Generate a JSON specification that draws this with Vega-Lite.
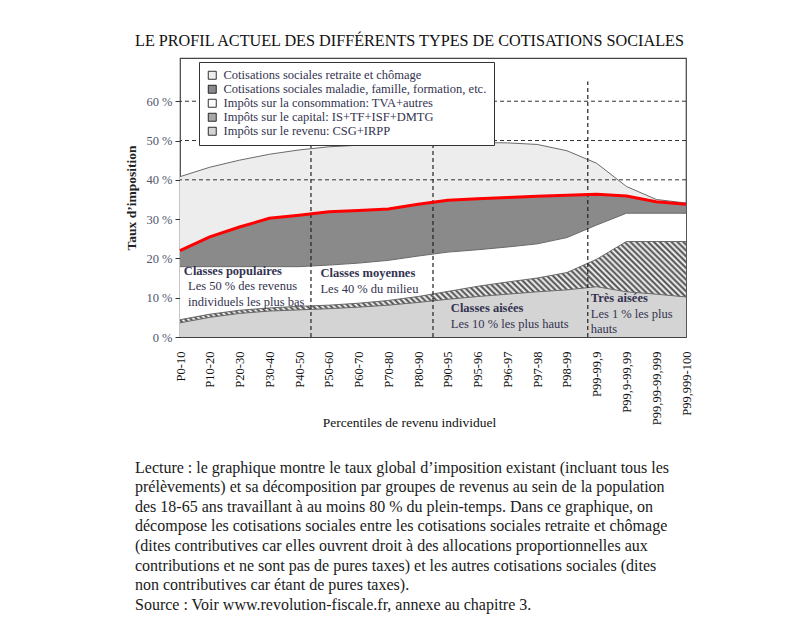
{
  "$schema": "https://vega.github.io/schema/vega-lite/v6.json",
  "background": "white",
  "padding": {"left": 124, "top": 33, "right": 10, "bottom": 10},
  "title": {"text": "LE PROFIL ACTUEL DES DIFFÉRENTS TYPES DE COTISATIONS SOCIALES", "anchor": "start", "frame": "group", "dx": -45, "font": "Liberation Serif", "fontSize": 16.2, "fontWeight": "normal", "color": "#111", "offset": 8},
  "config": {"view": {"stroke": "#444", "strokeWidth": 1.2}, "axis": {"labelOverlap": false}, "axisX": {"labelOverlap": false}},
  "datasets": {
    "donnees": [
      {"i":0,"p":"P0-10","a_revenu":3.6,"b_capital":0.8,"c_conso":13.5,"d_maladie":4.1,"e_retraite":18.8},
      {"i":1,"p":"P10-20","a_revenu":5.0,"b_capital":0.8,"c_conso":12.1,"d_maladie":7.6,"e_retraite":17.7},
      {"i":2,"p":"P20-30","a_revenu":6.0,"b_capital":0.8,"c_conso":11.1,"d_maladie":10.1,"e_retraite":17.0},
      {"i":3,"p":"P30-40","a_revenu":6.6,"b_capital":0.8,"c_conso":10.5,"d_maladie":12.3,"e_retraite":16.3},
      {"i":4,"p":"P40-50","a_revenu":6.9,"b_capital":0.9,"c_conso":10.1,"d_maladie":13.1,"e_retraite":16.6},
      {"i":5,"p":"P50-60","a_revenu":7.2,"b_capital":0.9,"c_conso":10.2,"d_maladie":13.6,"e_retraite":16.5},
      {"i":6,"p":"P60-70","a_revenu":7.6,"b_capital":1.0,"c_conso":10.2,"d_maladie":13.4,"e_retraite":16.6},
      {"i":7,"p":"P70-80","a_revenu":8.1,"b_capital":1.2,"c_conso":10.2,"d_maladie":13.1,"e_retraite":16.4},
      {"i":8,"p":"P80-90","a_revenu":8.8,"b_capital":1.5,"c_conso":10.3,"d_maladie":13.2,"e_retraite":15.4},
      {"i":9,"p":"P90-95","a_revenu":9.6,"b_capital":2.0,"c_conso":10.0,"d_maladie":13.2,"e_retraite":14.6},
      {"i":10,"p":"P95-96","a_revenu":10.3,"b_capital":2.6,"c_conso":9.3,"d_maladie":13.0,"e_retraite":14.3},
      {"i":11,"p":"P96-97","a_revenu":10.9,"b_capital":3.1,"c_conso":8.9,"d_maladie":12.6,"e_retraite":13.9},
      {"i":12,"p":"P97-98","a_revenu":11.5,"b_capital":3.5,"c_conso":8.7,"d_maladie":12.1,"e_retraite":13.2},
      {"i":13,"p":"P98-99","a_revenu":12.0,"b_capital":4.4,"c_conso":8.9,"d_maladie":10.8,"e_retraite":11.3},
      {"i":14,"p":"P99-99,9","a_revenu":12.8,"b_capital":7.0,"c_conso":8.7,"d_maladie":7.8,"e_retraite":7.9},
      {"i":15,"p":"P99,9-99,99","a_revenu":11.5,"b_capital":12.8,"c_conso":7.2,"d_maladie":4.4,"e_retraite":2.4},
      {"i":16,"p":"P99,99-99,999","a_revenu":10.9,"b_capital":13.4,"c_conso":7.2,"d_maladie":2.9,"e_retraite":0.6},
      {"i":17,"p":"P99,999-100","a_revenu":10.2,"b_capital":14.1,"c_conso":7.2,"d_maladie":2.3,"e_retraite":0.3}
    ],
    "titres": [
      {"texte":"Classes populaires","i":0.13,"taux":16.9},
      {"texte":"Classes moyennes","i":4.72,"taux":16.3},
      {"texte":"Classes aisées","i":9.1,"taux":7.5},
      {"texte":"Très aisées","i":13.8,"taux":9.8}
    ],
    "textes": [
      {"texte":"Les 50 % des revenus","i":0.27,"taux":12.9},
      {"texte":"individuels les plus bas","i":0.27,"taux":8.8},
      {"texte":"Les 40 % du milieu","i":4.72,"taux":12.1},
      {"texte":"Les 10 % les plus hauts","i":9.1,"taux":3.4},
      {"texte":"Les 1 % les plus","i":13.8,"taux":5.9},
      {"texte":"hauts","i":13.8,"taux":2.1}
    ],
    "horizontales": [{"g":40},{"g":50},{"g":60}],
    "verticales": [{"s":4.4},{"s":8.5},{"s":13.7}]
  },
  "vconcat": [
    {
      "width": 506,
      "height": 279,
      "title": {
        "text": [
          "Lecture : le graphique montre le taux global d’imposition existant (incluant tous les",
          "prélèvements) et sa décomposition par groupes de revenus au sein de la population",
          "des 18-65 ans travaillant à au moins 80 % du plein-temps. Dans ce graphique, on",
          "décompose les cotisations sociales entre les cotisations sociales retraite et chômage",
          "(dites contributives car elles ouvrent droit à des allocations proportionnelles aux",
          "contributions et ne sont pas de pures taxes) et les autres cotisations sociales (dites",
          "non contributives car étant de pures taxes).",
          "Source : Voir www.revolution-fiscale.fr, annexe au chapitre 3."
        ],
        "orient": "bottom", "anchor": "start", "frame": "group", "dx": -45,
        "font": "Liberation Serif", "fontSize": 16, "fontWeight": "normal", "color": "#1a1a1a",
        "lineHeight": 19.6, "offset": 31, "align": "left", "baseline": "top"
      },
      "layer": [
        {
          "data": {"name": "donnees"},
          "transform": [
            {"fold": ["a_revenu","b_capital","c_conso","d_maladie","e_retraite"], "as": ["serie","valeur"]},
            {"stack": "valeur", "groupby": ["i"], "sort": [{"field": "serie", "order": "ascending"}], "as": ["bas","haut"]}
          ],
          "mark": {"type": "area", "interpolate": "linear"},
          "encoding": {
            "x": {"field": "i", "type": "quantitative", "title": "Percentiles de revenu individuel",
              "scale": {"domain": [0,17], "nice": false, "zero": false},
              "axis": {"values": [0,1,2,3,4,5,6,7,8,9,10,11,12,13,14,15,16,17], "tickCount": 20,
                "labelExpr": "['P0-10','P10-20','P20-30','P30-40','P40-50','P50-60','P60-70','P70-80','P80-90','P90-95','P95-96','P96-97','P97-98','P98-99','P99-99,9','P99,9-99,99','P99,99-99,999','P99,999-100'][datum.value]",
                "labelAngle": 270, "labelAlign": "right", "labelBaseline": "middle", "labelFlush": false, "labelOverlap": false, "labelSeparation": 0,
                "ticks": false, "domain": false, "grid": false, "labelPadding": 14,
                "labelFont": "Liberation Serif", "labelFontSize": 12.5, "labelColor": "#111",
                "titleFont": "Liberation Serif", "titleFontSize": 13.5, "titleFontWeight": "normal", "titleColor": "#111",
                "titleX": 229, "titleY": 85, "titleAlign": "center", "titleBaseline": "middle"}},
            "y": {"field": "haut", "type": "quantitative", "title": "Taux d’imposition",
              "scale": {"domain": [0,71], "nice": false},
              "axis": {"values": [0,10,20,30,40,50,60], "tickCount": 10, "labelExpr": "datum.value + ' %'", "grid": false, "domain": false,
                "tickSize": 5, "tickColor": "#333", "labelFont": "Liberation Serif", "labelFontSize": 12.5, "labelColor": "#50556e",
                "labelPadding": 3, "titleFont": "Liberation Serif", "titleFontSize": 13.5, "titleFontWeight": "bold", "titleColor": "#222", "titlePadding": 7}},
            "y2": {"field": "bas"},
            "color": {"field": "serie", "type": "nominal",
              "scale": {"domain": ["e_retraite","d_maladie","c_conso","b_capital","a_revenu"], "range": ["#ededed","#8a8a8a","#ffffff","#a8a8a8","#d4d4d4"]},
              "legend": {"orient": "none", "legendX": 19, "legendY": 4, "title": null, "fillColor": "#ffffff", "strokeColor": "#333",
                "padding": 7, "symbolType": "square", "symbolSize": 64, "symbolStrokeColor": "#000", "symbolStrokeWidth": 0.8,
                "labelFont": "Liberation Serif", "labelFontSize": 12.5, "labelColor": "#333350", "rowPadding": 1, "labelOffset": 5, "labelLimit": 400,
                "labelExpr": "datum.label == 'e_retraite' ? 'Cotisations sociales retraite et chômage' : datum.label == 'd_maladie' ? 'Cotisations sociales maladie, famille, formation, etc.' : datum.label == 'c_conso' ? 'Impôts sur la consommation: TVA+autres' : datum.label == 'b_capital' ? 'Impôts sur le capital: IS+TF+ISF+DMTG' : 'Impôts sur le revenu: CSG+IRPP'"}}
          }
        },
        {
          "data": {"name": "donnees"},
          "transform": [
            {"fold": ["a_revenu","b_capital","c_conso","d_maladie","e_retraite"], "as": ["serie","valeur"]},
            {"stack": "valeur", "groupby": ["i"], "sort": [{"field": "serie", "order": "ascending"}], "as": ["bas","haut"]},
            {"filter": "datum.serie == 'b_capital'"}
          ],
          "mark": {"type": "area", "interpolate": "linear",
            "fill": {"gradient": "linear", "x1": 0, "y1": 1, "x2": 1.132, "y2": 0.8165, "stops": [
              {"offset":0,"color":"#fff"},{"offset":0.005,"color":"#444"},{"offset":0.01,"color":"#fff"},{"offset":0.015,"color":"#444"},{"offset":0.02,"color":"#fff"},{"offset":0.025,"color":"#444"},{"offset":0.03,"color":"#fff"},{"offset":0.035,"color":"#444"},{"offset":0.04,"color":"#fff"},{"offset":0.045,"color":"#444"},
              {"offset":0.05,"color":"#fff"},{"offset":0.055,"color":"#444"},{"offset":0.06,"color":"#fff"},{"offset":0.065,"color":"#444"},{"offset":0.07,"color":"#fff"},{"offset":0.075,"color":"#444"},{"offset":0.08,"color":"#fff"},{"offset":0.085,"color":"#444"},{"offset":0.09,"color":"#fff"},{"offset":0.095,"color":"#444"},
              {"offset":0.1,"color":"#fff"},{"offset":0.105,"color":"#444"},{"offset":0.11,"color":"#fff"},{"offset":0.115,"color":"#444"},{"offset":0.12,"color":"#fff"},{"offset":0.125,"color":"#444"},{"offset":0.13,"color":"#fff"},{"offset":0.135,"color":"#444"},{"offset":0.14,"color":"#fff"},{"offset":0.145,"color":"#444"},
              {"offset":0.15,"color":"#fff"},{"offset":0.155,"color":"#444"},{"offset":0.16,"color":"#fff"},{"offset":0.165,"color":"#444"},{"offset":0.17,"color":"#fff"},{"offset":0.175,"color":"#444"},{"offset":0.18,"color":"#fff"},{"offset":0.185,"color":"#444"},{"offset":0.19,"color":"#fff"},{"offset":0.195,"color":"#444"},
              {"offset":0.2,"color":"#fff"},{"offset":0.205,"color":"#444"},{"offset":0.21,"color":"#fff"},{"offset":0.215,"color":"#444"},{"offset":0.22,"color":"#fff"},{"offset":0.225,"color":"#444"},{"offset":0.23,"color":"#fff"},{"offset":0.235,"color":"#444"},{"offset":0.24,"color":"#fff"},{"offset":0.245,"color":"#444"},
              {"offset":0.25,"color":"#fff"},{"offset":0.255,"color":"#444"},{"offset":0.26,"color":"#fff"},{"offset":0.265,"color":"#444"},{"offset":0.27,"color":"#fff"},{"offset":0.275,"color":"#444"},{"offset":0.28,"color":"#fff"},{"offset":0.285,"color":"#444"},{"offset":0.29,"color":"#fff"},{"offset":0.295,"color":"#444"},
              {"offset":0.3,"color":"#fff"},{"offset":0.305,"color":"#444"},{"offset":0.31,"color":"#fff"},{"offset":0.315,"color":"#444"},{"offset":0.32,"color":"#fff"},{"offset":0.325,"color":"#444"},{"offset":0.33,"color":"#fff"},{"offset":0.335,"color":"#444"},{"offset":0.34,"color":"#fff"},{"offset":0.345,"color":"#444"},
              {"offset":0.35,"color":"#fff"},{"offset":0.355,"color":"#444"},{"offset":0.36,"color":"#fff"},{"offset":0.365,"color":"#444"},{"offset":0.37,"color":"#fff"},{"offset":0.375,"color":"#444"},{"offset":0.38,"color":"#fff"},{"offset":0.385,"color":"#444"},{"offset":0.39,"color":"#fff"},{"offset":0.395,"color":"#444"},
              {"offset":0.4,"color":"#fff"},{"offset":0.405,"color":"#444"},{"offset":0.41,"color":"#fff"},{"offset":0.415,"color":"#444"},{"offset":0.42,"color":"#fff"},{"offset":0.425,"color":"#444"},{"offset":0.43,"color":"#fff"},{"offset":0.435,"color":"#444"},{"offset":0.44,"color":"#fff"},{"offset":0.445,"color":"#444"},
              {"offset":0.45,"color":"#fff"},{"offset":0.455,"color":"#444"},{"offset":0.46,"color":"#fff"},{"offset":0.465,"color":"#444"},{"offset":0.47,"color":"#fff"},{"offset":0.475,"color":"#444"},{"offset":0.48,"color":"#fff"},{"offset":0.485,"color":"#444"},{"offset":0.49,"color":"#fff"},{"offset":0.495,"color":"#444"},
              {"offset":0.5,"color":"#fff"},{"offset":0.505,"color":"#444"},{"offset":0.51,"color":"#fff"},{"offset":0.515,"color":"#444"},{"offset":0.52,"color":"#fff"},{"offset":0.525,"color":"#444"},{"offset":0.53,"color":"#fff"},{"offset":0.535,"color":"#444"},{"offset":0.54,"color":"#fff"},{"offset":0.545,"color":"#444"},
              {"offset":0.55,"color":"#fff"},{"offset":0.555,"color":"#444"},{"offset":0.56,"color":"#fff"},{"offset":0.565,"color":"#444"},{"offset":0.57,"color":"#fff"},{"offset":0.575,"color":"#444"},{"offset":0.58,"color":"#fff"},{"offset":0.585,"color":"#444"},{"offset":0.59,"color":"#fff"},{"offset":0.595,"color":"#444"},
              {"offset":0.6,"color":"#fff"},{"offset":0.605,"color":"#444"},{"offset":0.61,"color":"#fff"},{"offset":0.615,"color":"#444"},{"offset":0.62,"color":"#fff"},{"offset":0.625,"color":"#444"},{"offset":0.63,"color":"#fff"},{"offset":0.635,"color":"#444"},{"offset":0.64,"color":"#fff"},{"offset":0.645,"color":"#444"},
              {"offset":0.65,"color":"#fff"},{"offset":0.655,"color":"#444"},{"offset":0.66,"color":"#fff"},{"offset":0.665,"color":"#444"},{"offset":0.67,"color":"#fff"},{"offset":0.675,"color":"#444"},{"offset":0.68,"color":"#fff"},{"offset":0.685,"color":"#444"},{"offset":0.69,"color":"#fff"},{"offset":0.695,"color":"#444"},
              {"offset":0.7,"color":"#fff"},{"offset":0.705,"color":"#444"},{"offset":0.71,"color":"#fff"},{"offset":0.715,"color":"#444"},{"offset":0.72,"color":"#fff"},{"offset":0.725,"color":"#444"},{"offset":0.73,"color":"#fff"},{"offset":0.735,"color":"#444"},{"offset":0.74,"color":"#fff"},{"offset":0.745,"color":"#444"},
              {"offset":0.75,"color":"#fff"},{"offset":0.755,"color":"#444"},{"offset":0.76,"color":"#fff"},{"offset":0.765,"color":"#444"},{"offset":0.77,"color":"#fff"},{"offset":0.775,"color":"#444"},{"offset":0.78,"color":"#fff"},{"offset":0.785,"color":"#444"},{"offset":0.79,"color":"#fff"},{"offset":0.795,"color":"#444"},
              {"offset":0.8,"color":"#fff"},{"offset":0.805,"color":"#444"},{"offset":0.81,"color":"#fff"},{"offset":0.815,"color":"#444"},{"offset":0.82,"color":"#fff"},{"offset":0.825,"color":"#444"},{"offset":0.83,"color":"#fff"},{"offset":0.835,"color":"#444"},{"offset":0.84,"color":"#fff"},{"offset":0.845,"color":"#444"},
              {"offset":0.85,"color":"#fff"},{"offset":0.855,"color":"#444"},{"offset":0.86,"color":"#fff"},{"offset":0.865,"color":"#444"},{"offset":0.87,"color":"#fff"},{"offset":0.875,"color":"#444"},{"offset":0.88,"color":"#fff"},{"offset":0.885,"color":"#444"},{"offset":0.89,"color":"#fff"},{"offset":0.895,"color":"#444"},
              {"offset":0.9,"color":"#fff"},{"offset":0.905,"color":"#444"},{"offset":0.91,"color":"#fff"},{"offset":0.915,"color":"#444"},{"offset":0.92,"color":"#fff"},{"offset":0.925,"color":"#444"},{"offset":0.93,"color":"#fff"},{"offset":0.935,"color":"#444"},{"offset":0.94,"color":"#fff"},{"offset":0.945,"color":"#444"},
              {"offset":0.95,"color":"#fff"},{"offset":0.955,"color":"#444"},{"offset":0.96,"color":"#fff"},{"offset":0.965,"color":"#444"},{"offset":0.97,"color":"#fff"},{"offset":0.975,"color":"#444"},{"offset":0.98,"color":"#fff"},{"offset":0.985,"color":"#444"},{"offset":0.99,"color":"#fff"},{"offset":0.995,"color":"#444"},
              {"offset":1,"color":"#fff"}
            ]}},
          "encoding": {
            "x": {"field": "i", "type": "quantitative", "title": "Percentiles de revenu individuel"},
            "y": {"field": "haut", "type": "quantitative", "title": "Taux d’imposition"},
            "y2": {"field": "bas"}
          }
        },
        {
          "data": {"name": "donnees"},
          "transform": [
            {"fold": ["a_revenu","b_capital","c_conso","d_maladie","e_retraite"], "as": ["serie","valeur"]},
            {"stack": "valeur", "groupby": ["i"], "sort": [{"field": "serie", "order": "ascending"}], "as": ["bas","haut"]},
            {"filter": "datum.serie != 'd_maladie'"}
          ],
          "mark": {"type": "line", "color": "#6a6a6a", "strokeWidth": 1},
          "encoding": {
            "x": {"field": "i", "type": "quantitative", "title": "Percentiles de revenu individuel"},
            "y": {"field": "haut", "type": "quantitative", "title": "Taux d’imposition"},
            "detail": {"field": "serie"}
          }
        },
        {
          "data": {"name": "horizontales"},
          "mark": {"type": "rule", "color": "#333", "strokeDash": [4,3], "strokeWidth": 1},
          "encoding": {"y": {"field": "g", "type": "quantitative", "title": "Taux d’imposition"}}
        },
        {
          "data": {"name": "verticales"},
          "mark": {"type": "rule", "color": "#222", "strokeDash": [4,3], "strokeWidth": 1.2},
          "encoding": {
            "x": {"field": "s", "type": "quantitative", "title": "Percentiles de revenu individuel"},
            "y": {"datum": 0},
            "y2": {"datum": 65}
          }
        },
        {
          "data": {"name": "donnees"},
          "transform": [
            {"fold": ["a_revenu","b_capital","c_conso","d_maladie","e_retraite"], "as": ["serie","valeur"]},
            {"stack": "valeur", "groupby": ["i"], "sort": [{"field": "serie", "order": "ascending"}], "as": ["bas","haut"]},
            {"filter": "datum.serie == 'd_maladie'"}
          ],
          "mark": {"type": "line", "color": "#ff0000", "strokeWidth": 3},
          "encoding": {
            "x": {"field": "i", "type": "quantitative", "title": "Percentiles de revenu individuel"},
            "y": {"field": "haut", "type": "quantitative", "title": "Taux d’imposition"}
          }
        },
        {
          "data": {"name": "titres"},
          "mark": {"type": "text", "align": "left", "baseline": "middle", "font": "Liberation Serif", "fontSize": 12.5, "fontWeight": "bold", "color": "#333350"},
          "encoding": {
            "x": {"field": "i", "type": "quantitative", "title": "Percentiles de revenu individuel"},
            "y": {"field": "taux", "type": "quantitative", "title": "Taux d’imposition"},
            "text": {"field": "texte"}
          }
        },
        {
          "data": {"name": "textes"},
          "mark": {"type": "text", "align": "left", "baseline": "middle", "font": "Liberation Serif", "fontSize": 12.5, "color": "#333350"},
          "encoding": {
            "x": {"field": "i", "type": "quantitative", "title": "Percentiles de revenu individuel"},
            "y": {"field": "taux", "type": "quantitative", "title": "Taux d’imposition"},
            "text": {"field": "texte"}
          }
        }
      ]
    }
  ]
}
